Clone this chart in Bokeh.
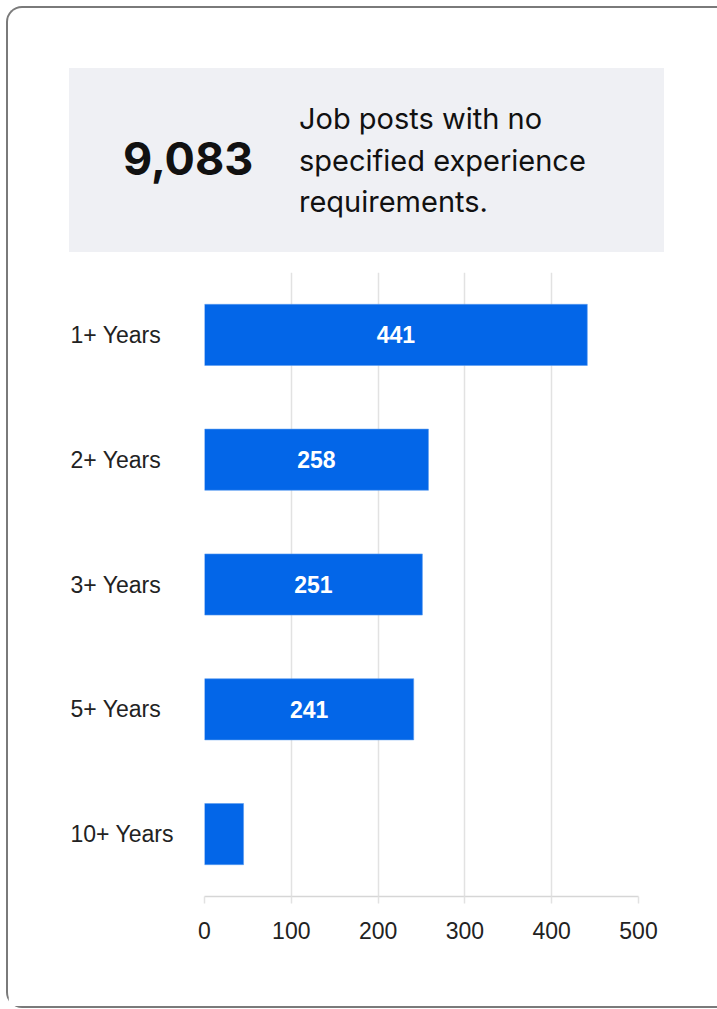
from bokeh.plotting import figure
from bokeh.models import Range1d, FactorRange, FixedTicker, ColumnDataSource, Div
from bokeh.layouts import column, row
from bokeh.core.properties import value
from bokeh.embed import file_html
from bokeh.resources import INLINE

# ---- data ----
categories = ["1+ Years", "2+ Years", "3+ Years", "5+ Years", "10+ Years"]
counts = [441, 258, 251, 241, 45]
x_ticks = [0, 100, 200, 300, 400, 500]
headline_number = "9,083"
headline_lines = ["Job posts with no", "specified experience", "requirements."]

BAR = "#0366e8"
TXT = "#222222"

yr = FactorRange(factors=list(reversed(categories)))

# ---- header (gray box with headline) ----
header_html = (
    '<div style="position:relative;width:709px;height:254px;">'
    '<div style="position:absolute;left:61px;top:60px;width:595px;height:184px;background:#eff0f4;"></div>'
    '<div style="position:absolute;left:115px;top:128px;font-family:Inter;font-weight:700;'
    'font-size:45px;line-height:45px;color:#111111;white-space:nowrap;">%s</div>'
    '<div style="position:absolute;left:291px;top:90px;font-family:Inter;font-weight:400;'
    'font-size:29px;line-height:41.5px;color:#111111;white-space:nowrap;">%s</div>'
    '</div>'
) % (headline_number, "<br>".join(headline_lines))
header = Div(text=header_html, width=709, height=254, margin=0)

# ---- category labels (left aligned) ----
lab = figure(width=176, height=744, x_range=Range1d(0, 1), y_range=yr,
             output_backend="svg", toolbar_location=None,
             min_border_left=0, min_border_right=0,
             min_border_top=10, min_border_bottom=110)
lab.xaxis.visible = False
lab.yaxis.visible = False
lab.grid.grid_line_color = None
lab.outline_line_color = None
csrc = ColumnDataSource(dict(cat=categories, x=[0] * len(categories)))
lab.text(x="x", y="cat", text="cat", source=csrc, x_offset=62,
         text_color=TXT, text_font=value("Liberation Sans"),
         text_font_size="23px", text_align="left", text_baseline="middle")

# ---- bar chart ----
p = figure(width=533, height=744,
           x_range=Range1d(0, 500), y_range=yr,
           output_backend="svg", toolbar_location=None,
           min_border_left=20, min_border_right=79,
           min_border_top=10, min_border_bottom=110)
p.outline_line_color = None

src = ColumnDataSource(dict(cat=categories, val=counts))
p.hbar(y="cat", right="val", left=0, height=0.49, source=src,
       fill_color=BAR, line_color="#5b9cf0", line_width=0.6)

lab_cat = [c for c, v in zip(categories, counts) if v >= 100]
lab_val = [v for v in counts if v >= 100]
lsrc = ColumnDataSource(dict(cat=lab_cat, x=[v / 2 for v in lab_val], t=[str(v) for v in lab_val]))
p.text(x="x", y="cat", text="t", source=lsrc, text_color="white",
       text_font=value("Liberation Sans"), text_font_style="bold",
       text_font_size="23px", text_align="center", text_baseline="middle")

p.yaxis.visible = False
p.ygrid.grid_line_color = None
p.xgrid.grid_line_color = "#e2e2e2"
p.xgrid.grid_line_width = 1.5

ax = p.xaxis[0]
ax.ticker = FixedTicker(ticks=x_ticks)
ax.axis_line_color = "#d6d6d6"
ax.axis_line_width = 1.5
ax.major_tick_line_color = "#e2e2e2"
ax.major_tick_line_width = 1.5
ax.major_tick_out = 7
ax.major_tick_in = 0
ax.minor_tick_line_color = None
ax.major_label_standoff = 18
ax.major_label_text_font = "Liberation Sans"
ax.major_label_text_font_size = "23px"
ax.major_label_text_color = TXT

layout = column(header, row(lab, p),
                styles={"margin-left": "6px", "margin-top": "6px",
                        "border-left": "2px solid #7a7a7a",
                        "border-top": "2px solid #7a7a7a",
                        "border-bottom": "2px solid #7a7a7a",
                        "border-radius": "16px 0 0 16px"})

open("out.html", "w").write(file_html(layout, INLINE))
